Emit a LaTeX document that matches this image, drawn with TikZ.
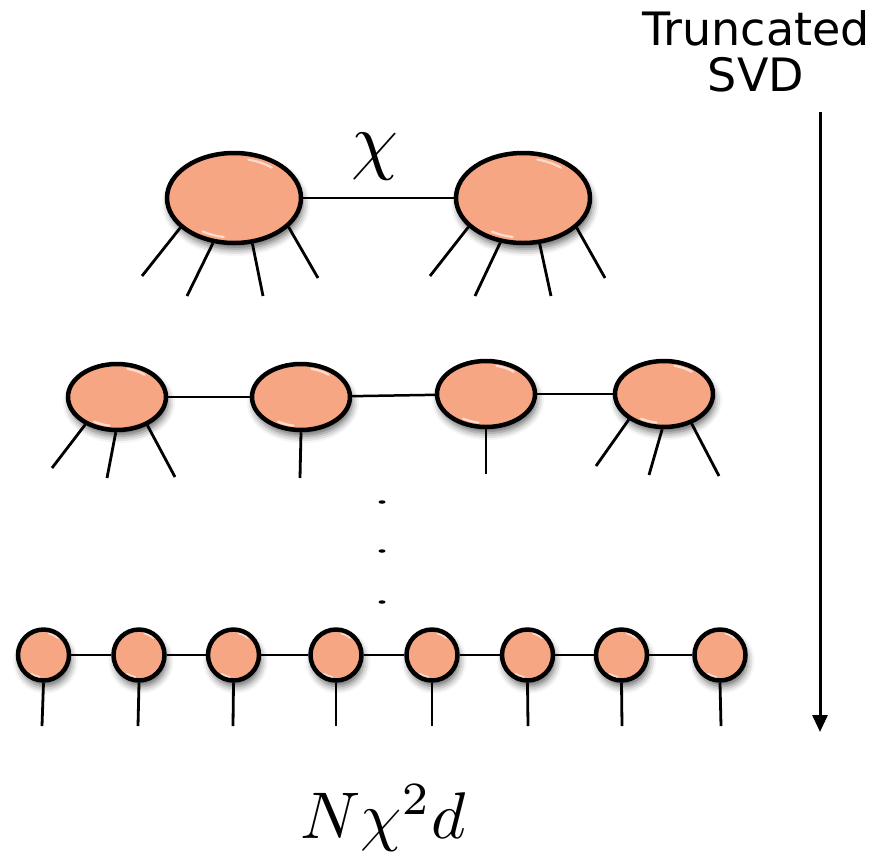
\documentclass[tikz,border=0pt]{standalone}
\usepackage{fontspec}
\newfontfamily\labelfont{DejaVu Sans}
\usetikzlibrary{arrows.meta,shapes.geometric,shadows.blur,calc}
\definecolor{tensorfill}{RGB}{246,166,131}
\begin{document}
\begin{tikzpicture}[x=1pt,y=-1pt,
  gloss/.style={white, line width=2.2pt, line cap=round},
  tensor/.style={ellipse, draw=black, line width=4.5pt, fill=tensorfill, inner sep=0pt,
    blur shadow={shadow xshift=2pt, shadow yshift=-6pt, shadow blur radius=7pt, shadow opacity=60},
    path picture={
      \draw let \p1=($(path picture bounding box.north east)-(path picture bounding box.center)$),
                \n1={0.88*\x1}, \n2={0.88*\y1} in
        [gloss, opacity=.75] ($(path picture bounding box.center)+(50:\n1 and \n2)$)
          arc[start angle=50, end angle=76, x radius=\n1, y radius=\n2]
        [gloss, opacity=.6] ($(path picture bounding box.center)+(238:\n1 and \n2)$)
          arc[start angle=238, end angle=260, x radius=\n1, y radius=\n2];
    }},
  bigtensor/.style={tensor, minimum width=134pt, minimum height=90pt},
  midtensor/.style={tensor, minimum width=98pt, minimum height=66pt},
  smalltensor/.style={tensor, circle, minimum size=51pt},
  bond/.style={line width=2.5pt},
  leg/.style={line width=2.8pt},
  dot/.style={ellipse, fill=black, inner sep=0pt, minimum width=7pt, minimum height=3.5pt}]
\useasboundingbox (0,0) rectangle (875,855);

% two-site tensor network
\node[bigtensor] (a1) at (234,198) {};
\node[bigtensor] (a2) at (523,198) {};
\draw[bond] (a1) -- (a2);
\node[anchor=base, inner sep=0pt] (chi) at (375,165) {\scalebox{7.5}{$\chi$}};
\foreach \ang/\px/\py in {209/142/276, 245/187/296, 292/263/296, 332/318/278}
  \draw[leg] (a1.\ang) -- (\px,\py);
\foreach \ang/\px/\py in {208/430/276, 243/475/296, 290/551/296, 331/605/278}
  \draw[leg] (a2.\ang) -- (\px,\py);

% four-site tensor network
\node[midtensor] (b1) at (117,397) {};
\node[midtensor] (b2) at (301,397) {};
\node[midtensor] (b3) at (486,394) {};
\node[midtensor] (b4) at (664,394) {};
\draw[bond] (b1) -- (b2);
\draw[bond] (b2) -- (b3);
\draw[bond] (b3) -- (b4);
\foreach \ang/\px/\py in {221/52/468, 268/107/478, 317/175/477}
  \draw[leg] (b1.\ang) -- (\px,\py);
\draw[leg] (b2.270) -- (300,478);
\draw[leg] (b3.270) -- (486,474);
\foreach \ang/\px/\py in {216/596/466, 267/649/475, 313/719/476}
  \draw[leg] (b4.\ang) -- (\px,\py);

% ellipsis
\node[dot] (d1) at (382,502) {};
\node[dot] (d2) at (382,551) {};
\node[dot] (d3) at (382,602) {};

% matrix product state
\foreach \i/\x/\lx in {1/43.5/42, 2/139/138, 3/233.5/233, 4/336/336, 5/432/432, 6/527.5/528, 7/621.5/622, 8/720/721} {
  \node[smalltensor] (c\i) at (\x,655) {};
  \draw[leg] (c\i.south) -- (\lx,726);
}
\foreach \i [evaluate=\i as \j using int(\i+1)] in {1,...,7}
  \draw[bond] (c\i) -- (c\j);

\node[anchor=base, inner sep=0pt] (cost) at (383,838) {\scalebox{6.6}{$N\chi^2 d$}};

% truncation arrow
\node[anchor=base, inner sep=0pt] (trunc) at (756,45) {\labelfont\fontsize{46}{55}\selectfont Truncated};
\node[anchor=base, inner sep=0pt] (svd) at (756,91) {\labelfont\fontsize{46}{55}\selectfont SVD};
\coordinate (arrtop) at (820,112);
\coordinate (arrbot) at (820,732);
\draw[line width=3pt, -{Triangle[width=15pt,length=17pt]}] (arrtop) -- (arrbot);
\end{tikzpicture}
\end{document}
